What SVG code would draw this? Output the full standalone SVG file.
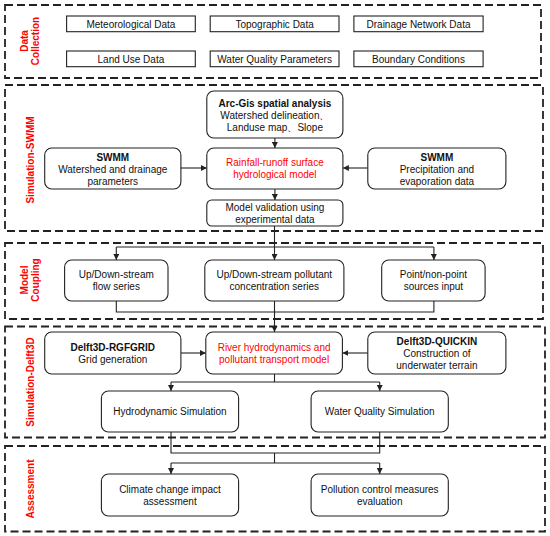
<svg xmlns="http://www.w3.org/2000/svg" width="550" height="536" viewBox="0 0 550 536">
<style>
text{font-family:"Liberation Sans",Arial,sans-serif;font-size:10px;fill:#111;text-anchor:middle}
.b{font-weight:bold}
.r{fill:#ff0000}
.lab{font-weight:bold;fill:#ff0000;font-size:10px}
.sec{fill:none;stroke:#222;stroke-width:1.8;stroke-dasharray:8,4}
.sq{fill:#fff;stroke:#222;stroke-width:1.1}
.rd{fill:#fff;stroke:#222;stroke-width:1.1}
.c{fill:none;stroke:#222;stroke-width:1.1}
</style>
<defs>
<marker id="ah" markerWidth="6" markerHeight="6" refX="6" refY="3" orient="auto" markerUnits="userSpaceOnUse">
<path d="M0,0 L6,3 L0,6 z" fill="#222"/>
</marker>
</defs>
<g id="sections">
<rect class="sec" x="5" y="5" width="536" height="73"/>
<rect class="sec" x="5" y="85" width="538" height="146"/>
<rect class="sec" x="5" y="243" width="538" height="76"/>
<rect class="sec" x="5" y="326.5" width="540" height="111"/>
<rect class="sec" x="5" y="446" width="540" height="85.5"/>
</g>
<g id="labels">
<text class="lab" transform="translate(24,41) rotate(-90)"><tspan x="0" y="3.5">Data</tspan><tspan x="0" y="14.5">Collection</tspan></text>
<text class="lab" transform="translate(30,160) rotate(-90)" y="3.5">Simulation-SWMM</text>
<text class="lab" transform="translate(24,280) rotate(-90)"><tspan x="0" y="3.5">Model</tspan><tspan x="0" y="14.5">Coupling</tspan></text>
<text class="lab" transform="translate(30,382) rotate(-90)" y="3.5">Simulation-Delft3D</text>
<text class="lab" transform="translate(30,489) rotate(-90)" y="3.5">Assessment</text>
</g>
<g id="connectors">
<path class="c" d="M274.9,138 V148" marker-end="url(#ah)"/>
<path class="c" d="M180.9,168 H206.8" marker-end="url(#ah)"/>
<path class="c" d="M367.8,168 H342.9" marker-end="url(#ah)"/>
<path class="c" d="M274.9,189 V200" marker-end="url(#ah)"/>
<path class="c" d="M274.5,226 V260" marker-end="url(#ah)"/>
<path class="c" d="M116.3,247 H433.9"/>
<path class="c" d="M116.3,247 V260" marker-end="url(#ah)"/>
<path class="c" d="M433.9,247 V260" marker-end="url(#ah)"/>
<path class="c" d="M116.3,301 V312 H433.9 V301"/>
<path class="c" d="M274.5,301 V332" marker-end="url(#ah)"/>
<path class="c" d="M180.9,353 H205.8" marker-end="url(#ah)"/>
<path class="c" d="M367.8,353 H342.4" marker-end="url(#ah)"/>
<path class="c" d="M274.5,374 V382 M171,382 H379.7"/>
<path class="c" d="M171,382 V391" marker-end="url(#ah)"/>
<path class="c" d="M379.7,382 V391" marker-end="url(#ah)"/>
<path class="c" d="M171,432 V453 H379.7 V432 M274.5,453 V463 M171,463 H379.7"/>
<path class="c" d="M171,463 V474" marker-end="url(#ah)"/>
<path class="c" d="M379.7,463 V474" marker-end="url(#ah)"/>
</g>
<g id="met"><rect class="sq" x="66.6" y="16" width="128.7" height="15.7"/><text x="130.9" y="27.8">Meteorological Data</text></g>
<g id="topo"><rect class="sq" x="210.2" y="16" width="128.8" height="15.7"/><text x="274.6" y="27.8">Topographic Data</text></g>
<g id="drain"><rect class="sq" x="353.9" y="16" width="129.2" height="15.7"/><text x="418.5" y="27.8">Drainage Network Data</text></g>
<g id="landuse"><rect class="sq" x="66.6" y="51" width="128.7" height="15.7"/><text x="130.9" y="62.8">Land Use Data</text></g>
<g id="wqp"><rect class="sq" x="210.2" y="51" width="128.8" height="15.7"/><text x="274.6" y="62.8">Water Quality Parameters</text></g>
<g id="bc"><rect class="sq" x="353.9" y="51" width="129.2" height="15.7"/><text x="418.5" y="62.8">Boundary Conditions</text></g>
<g id="arcgis"><rect class="rd" x="206.8" y="91" width="136.1" height="47" rx="7"/><text class="b" x="274.9" y="106.5">Arc-Gis spatial analysis</text><text x="274.9" y="118.5">Watershed delineation、</text><text x="274.9" y="130.5">Landuse map、Slope</text></g>
<g id="rainfall"><rect class="rd" x="206.8" y="148" width="136.1" height="41" rx="7"/><text class="r" x="274.9" y="166">Rainfall-runoff surface</text><text class="r" x="274.9" y="178">hydrological model</text></g>
<g id="swmm1"><rect class="rd" x="44.7" y="148" width="136.2" height="41" rx="7"/><text class="b" x="112.8" y="160.5">SWMM</text><text x="112.8" y="172.5">Watershed and drainage</text><text x="112.8" y="184.5">parameters</text></g>
<g id="swmm2"><rect class="rd" x="367.8" y="148" width="138.1" height="41" rx="7"/><text class="b" x="436.9" y="160.5">SWMM</text><text x="436.9" y="172.5">Precipitation and</text><text x="436.9" y="184.5">evaporation data</text></g>
<g id="valid"><rect class="rd" x="206.8" y="200" width="136.1" height="26" rx="5"/><text x="274.9" y="211">Model validation using</text><text x="274.9" y="223">experimental data</text></g>
<g id="flow"><rect class="rd" x="64.6" y="260" width="103.4" height="41" rx="7"/><text x="116.3" y="278">Up/Down-stream</text><text x="116.3" y="290">flow series</text></g>
<g id="conc"><rect class="rd" x="204.8" y="260" width="139.1" height="41" rx="7"/><text x="274.3" y="278">Up/Down-stream pollutant</text><text x="274.3" y="290">concentration series</text></g>
<g id="point"><rect class="rd" x="381.7" y="260" width="103.4" height="41" rx="7"/><text x="433.4" y="278">Point/non-point</text><text x="433.4" y="290">sources input</text></g>
<g id="rgf"><rect class="rd" x="44.7" y="332" width="136.2" height="42" rx="7"/><text class="b" x="112.8" y="351">Delft3D-RGFGRID</text><text x="112.8" y="363">Grid generation</text></g>
<g id="river"><rect class="rd" x="205.8" y="332" width="136.6" height="42" rx="7"/><text class="r" x="274.1" y="351">River hydrodynamics and</text><text class="r" x="274.1" y="363">pollutant transport model</text></g>
<g id="quick"><rect class="rd" x="367.8" y="332" width="138.1" height="42" rx="7"/><text class="b" x="436.9" y="344.5">Delft3D-QUICKIN</text><text x="436.9" y="356.5">Construction of</text><text x="436.9" y="368.5">underwater terrain</text></g>
<g id="hydro"><rect class="rd" x="101.4" y="391" width="137.2" height="41" rx="7"/><text x="170" y="415">Hydrodynamic Simulation</text></g>
<g id="wqs"><rect class="rd" x="311.1" y="391" width="137.2" height="41" rx="7"/><text x="379.7" y="415">Water Quality Simulation</text></g>
<g id="climate"><rect class="rd" x="101.4" y="474" width="137.2" height="42" rx="7"/><text x="170" y="492.5">Climate change impact</text><text x="170" y="504.5">assessment</text></g>
<g id="pollution"><rect class="rd" x="311.1" y="474" width="137.2" height="42" rx="7"/><text x="379.7" y="492.5">Pollution control measures</text><text x="379.7" y="504.5">evaluation</text></g>
</svg>
